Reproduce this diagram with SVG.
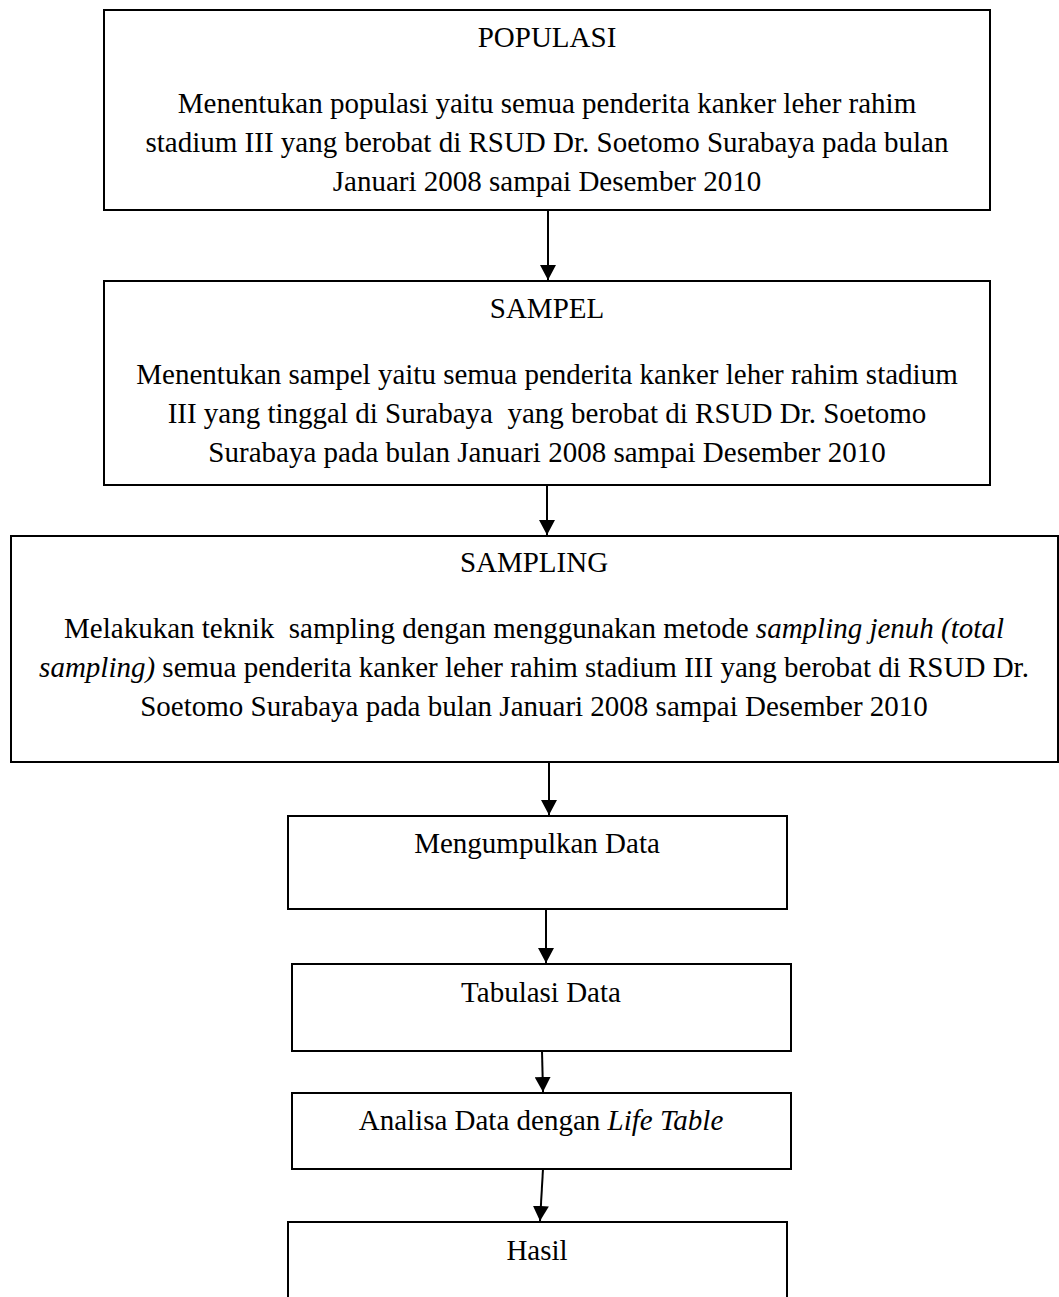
<svg xmlns="http://www.w3.org/2000/svg" width="1059" height="1297" viewBox="0 0 1059 1297">
<style>
  .box { fill: #ffffff; stroke: #000000; stroke-width: 2; }
  .t { font-family: "Liberation Serif", "Times New Roman", serif; font-size: 29px; fill: #000000; text-anchor: middle; }
  .i { font-style: italic; }
  .conn { stroke: #000000; stroke-width: 2; fill: none; marker-end: url(#arrow); }
</style>
<defs>
  <marker id="arrow" markerUnits="userSpaceOnUse" markerWidth="16" markerHeight="16" refX="15" refY="8" orient="auto">
    <path d="M0,0 L15,8 L0,16 z" fill="#000000"/>
  </marker>
</defs>
<rect width="1059" height="1297" fill="#ffffff"/>

<g id="connectors">
  <line class="conn" x1="548" y1="211" x2="548" y2="280"/>
  <line class="conn" x1="547" y1="485" x2="547" y2="535"/>
  <line class="conn" x1="549" y1="762" x2="549" y2="815"/>
  <line class="conn" x1="546" y1="909" x2="546" y2="963"/>
  <line class="conn" x1="542" y1="1051" x2="543" y2="1092"/>
  <line class="conn" x1="543" y1="1169" x2="540" y2="1221"/>
</g>

<g id="populasi">
  <rect class="box" x="104" y="10" width="886" height="200"/>
  <text class="t" x="547" y="47">POPULASI</text>
  <text class="t" x="547" y="113">Menentukan populasi yaitu semua penderita kanker leher rahim</text>
  <text class="t" x="547" y="152">stadium III yang berobat di RSUD Dr. Soetomo Surabaya pada bulan</text>
  <text class="t" x="547" y="191">Januari 2008 sampai Desember 2010</text>
</g>

<g id="sampel">
  <rect class="box" x="104" y="281" width="886" height="204"/>
  <text class="t" x="547" y="318">SAMPEL</text>
  <text class="t" x="547" y="384">Menentukan sampel yaitu semua penderita kanker leher rahim stadium</text>
  <text class="t" x="547" y="423" xml:space="preserve">III yang tinggal di Surabaya  yang berobat di RSUD Dr. Soetomo</text>
  <text class="t" x="547" y="462">Surabaya pada bulan Januari 2008 sampai Desember 2010</text>
</g>

<g id="sampling">
  <rect class="box" x="11" y="536" width="1047" height="226"/>
  <text class="t" x="534" y="572">SAMPLING</text>
  <text class="t" x="534" y="638" xml:space="preserve">Melakukan teknik  sampling dengan menggunakan metode <tspan class="i">sampling jenuh (total</tspan></text>
  <text class="t" x="534" y="677"><tspan class="i">sampling)</tspan> semua penderita kanker leher rahim stadium III yang berobat di RSUD Dr.</text>
  <text class="t" x="534" y="716">Soetomo Surabaya pada bulan Januari 2008 sampai Desember 2010</text>
</g>

<g id="mengumpulkan">
  <rect class="box" x="288" y="816" width="499" height="93"/>
  <text class="t" x="537" y="853">Mengumpulkan Data</text>
</g>

<g id="tabulasi">
  <rect class="box" x="292" y="964" width="499" height="87"/>
  <text class="t" x="541" y="1002">Tabulasi Data</text>
</g>

<g id="analisa">
  <rect class="box" x="292" y="1093" width="499" height="76"/>
  <text class="t" x="541" y="1130">Analisa Data dengan <tspan class="i">Life Table</tspan></text>
</g>

<g id="hasil">
  <rect class="box" x="288" y="1222" width="499" height="90"/>
  <text class="t" x="537" y="1260">Hasil</text>
</g>
</svg>
